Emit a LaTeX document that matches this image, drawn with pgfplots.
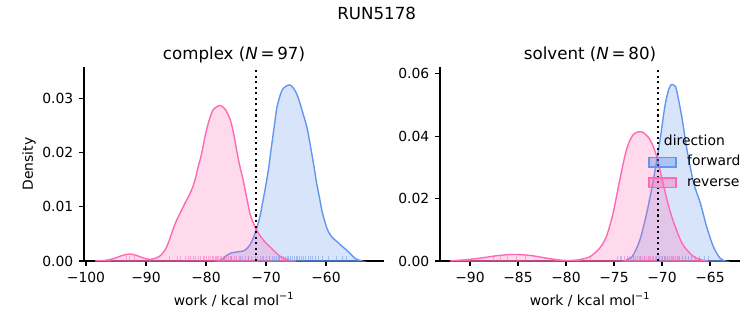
\documentclass[border=0pt]{standalone}
\usepackage{fontspec}
\setmainfont{DejaVu Sans}
\usepackage{pgfplots}
\pgfplotsset{compat=1.18}
\definecolor{fwd}{HTML}{6495ED}
\definecolor{rev}{HTML}{FF69B4}
\pgfplotsset{
  kdestyle/.style={
    scale only axis, width=216pt, height=139.68pt,
    axis x line*=bottom, axis y line*=left,
    axis line style={-, line width=0.8pt, black},
    tick align=outside, major tick length=3.5pt,
    every tick/.style={black, line width=0.8pt},
    minor tick num=0,
    scaled y ticks=false, scaled x ticks=false,
    ymin=0,
    tick label style={font=\fontsize{10}{12}\selectfont},
    xticklabel style={anchor=base, inner sep=0pt, yshift=-12.1pt},
    yticklabel style={anchor=east, inner sep=0pt, xshift=-4pt},
    every axis x label/.style={at={(axis description cs:0.5,0)}, anchor=base, yshift=-31.7pt, font=\fontsize{10}{12}\selectfont},
    every axis y label/.style={at={(axis description cs:-0.1602,0.5)}, rotate=90, anchor=south, inner sep=0pt, font=\fontsize{10}{12}\selectfont},
    every axis title/.style={at={(axis description cs:0.5,1)}, anchor=base, yshift=5.76pt, font=\fontsize{12}{14}\selectfont},
    xlabel={work / kcal mol\textsuperscript{−1}},
  },
  fwdarea/.style={smooth, draw=fwd, line width=1pt, fill=fwd, fill opacity=0.25, draw opacity=1},
  revarea/.style={smooth, draw=rev, line width=1pt, fill=rev, fill opacity=0.25, draw opacity=1},
  fwdrug/.style={ycomb, no marks, draw=fwd, line width=0.6pt, opacity=0.5},
  revrug/.style={ycomb, no marks, draw=rev, line width=0.6pt, opacity=0.5},
}
\begin{document}
\begin{tikzpicture}
\path[use as bounding box] (0pt,0pt) rectangle (542.16pt,234pt);
\node[anchor=base, font=\fontsize{12}{14}\selectfont, inner sep=0pt] at (271.2pt,220.3pt) {RUN5178};

% ---------------- complex ----------------
\begin{axis}[kdestyle, at={(60.48pt,46.08pt)}, anchor=south west,
  xmin=-100.33, xmax=-50.33, ymax=0.0358,
  title={complex ({\itshape N}\,=\,97)},
  ylabel={Density},
  xtick={-100,-90,-80,-70,-60}, xticklabels={−100,−90,−80,−70,−60},
  ytick={0,0.01,0.02,0.03}, yticklabels={0.00,0.01,0.02,0.03},
]
\addplot[fwdarea] coordinates {
(-78,0) (-77.2,0.0004) (-76.6,0.0010) (-76,0.0014) (-75.3,0.0016) (-74.6,0.0017) (-74,0.0018) (-73.5,0.0020) (-73.1,0.0024) (-72.67,0.0030) (-72.2,0.0040) (-71.83,0.0051) (-71.4,0.0066) (-71,0.0082) (-70.6,0.0106) (-70.17,0.0131) (-69.6,0.0168) (-69.1,0.0210) (-68.6,0.0250) (-68.2,0.0282) (-67.6,0.0307) (-67.1,0.0319) (-66.1,0.0325) (-65.5,0.0320) (-64.9,0.0309) (-64.33,0.0291) (-63.8,0.0271) (-63.2,0.0248) (-62.8,0.0225) (-62.38,0.0199) (-61.95,0.0171) (-61.55,0.0143) (-61.1,0.0118) (-60.7,0.0094) (-60.2,0.0073) (-59.6,0.0054) (-58.9,0.0043) (-58.2,0.0036) (-57.4,0.0028) (-56.55,0.0020) (-55.8,0.0012) (-55.17,0.0005) (-54.6,0.0002) (-54,0)
} \closedcycle;
\addplot[revarea] coordinates {
(-98.5,0) (-97,0.0001) (-95.5,0.0004) (-94,0.0010) (-92.7,0.0013) (-91.5,0.0010) (-90.3,0.0005) (-89.3,0.0003) (-88.5,0.0005) (-87.7,0.0009) (-87.1,0.0016) (-86.55,0.0026) (-86,0.0042) (-85.45,0.0060) (-84.9,0.0075) (-84.33,0.0088) (-83.75,0.0101) (-83.2,0.0113) (-82.6,0.0126) (-82.1,0.0140) (-81.7,0.0155) (-81.3,0.0174) (-80.9,0.0190) (-80.6,0.0205) (-80.0,0.0238) (-79.4,0.0262) (-78.8,0.0279) (-77.7,0.0287) (-76.8,0.0280) (-76,0.0262) (-75.4,0.0236) (-74.9,0.0205) (-74.3,0.0172) (-73.8,0.0149) (-73.2,0.0116) (-72.67,0.0088) (-72.1,0.0070) (-71.55,0.0057) (-71,0.0047) (-70.45,0.0039) (-69.9,0.0032) (-69.3,0.0026) (-68.6,0.0018) (-67.8,0.0010) (-67,0.0005) (-66,0.0001) (-65,0)
} \closedcycle;
\addplot[fwdrug] coordinates {
(-77.0,0.0009) (-75.8,0.0009) (-74.3,0.0009) (-72.9,0.0009) (-71.8,0.0009) (-71.0,0.0009) (-70.4,0.0009) (-69.9,0.0009) (-69.4,0.0009) (-69.0,0.0009) (-68.6,0.0009) (-68.3,0.0009) (-68.0,0.0009) (-67.7,0.0009) (-67.4,0.0009) (-67.1,0.0009) (-66.8,0.0009) (-66.5,0.0009) (-66.2,0.0009) (-65.9,0.0009) (-65.6,0.0009) (-65.3,0.0009) (-65.0,0.0009) (-64.7,0.0009) (-64.4,0.0009) (-64.1,0.0009) (-63.8,0.0009) (-63.4,0.0009) (-63.0,0.0009) (-62.6,0.0009) (-62.2,0.0009) (-61.7,0.0009) (-61.2,0.0009) (-60.6,0.0009) (-59.6,0.0009) (-58.3,0.0009) (-57.2,0.0009) (-56.6,0.0009)
};
\addplot[revrug] coordinates {
(-93.3,0.0009) (-92.8,0.0009) (-91.9,0.0009) (-86.1,0.0009) (-84.8,0.0009) (-84.3,0.0009) (-83.5,0.0009) (-83.0,0.0009) (-82.6,0.0009) (-82.1,0.0009) (-81.7,0.0009) (-81.3,0.0009) (-80.9,0.0009) (-80.5,0.0009) (-80.2,0.0009) (-79.9,0.0009) (-79.6,0.0009) (-79.3,0.0009) (-79.0,0.0009) (-78.8,0.0009) (-78.5,0.0009) (-78.3,0.0009) (-78.1,0.0009) (-77.9,0.0009) (-77.6,0.0009) (-77.4,0.0009) (-77.1,0.0009) (-76.9,0.0009) (-76.6,0.0009) (-76.3,0.0009) (-76.0,0.0009) (-75.7,0.0009) (-75.3,0.0009) (-74.9,0.0009) (-74.5,0.0009) (-74.0,0.0009) (-73.5,0.0009) (-73.0,0.0009) (-72.4,0.0009) (-71.5,0.0009) (-70.6,0.0009) (-69.5,0.0009) (-67.8,0.0009)
};
\addplot[black, line width=1.5pt, dash pattern=on 1.5pt off 2.5pt] coordinates {(-71.7,0) (-71.7,0.0358)};
\end{axis}

% ---------------- solvent ----------------
\begin{axis}[kdestyle, at={(316.8pt,46.08pt)}, anchor=south west,
  xmin=-93.125, xmax=-61.875, ymax=0.0622,
  title={solvent ({\itshape N}\,=\,80)},
  xtick={-90,-85,-80,-75,-70,-65}, xticklabels={−90,−85,−80,−75,−70,−65},
  ytick={0,0.02,0.04,0.06}, yticklabels={0.00,0.02,0.04,0.06},
  legend image code/.code={\draw[#1] (0pt,-3.5pt) rectangle (19.5pt,3.5pt);},
  legend cell align=left,
  legend style={draw=none, fill=none, inner sep=0pt, outer sep=0pt,
    at={(0.694,0.540)}, anchor=north west, row sep=6.3pt,
    font=\fontsize{10}{12}\selectfont,
    nodes={inner sep=0pt, text height=7pt, text depth=1.6pt},
    /tikz/every odd column/.append style={column sep=7.6pt}},
]
\addplot[fwdarea, forget plot] coordinates {
(-73.9,0) (-73.4,0.0008) (-73,0.0019) (-72.3,0.0068) (-71.6,0.0153) (-70.9,0.026) (-70.2,0.0389) (-69.7,0.0496) (-69.3,0.0550) (-69,0.0566) (-68.7,0.0562) (-68.5,0.055) (-67.95,0.0464) (-67.4,0.0357) (-66.7,0.025) (-66,0.0185) (-65.35,0.011) (-64.65,0.0046) (-63.95,0.0009) (-63.4,0)
} \closedcycle;
\addplot[revarea, forget plot] coordinates {
(-92.1,0) (-90.5,0.0004) (-89,0.0009) (-87.2,0.0017) (-85.5,0.0021) (-83.75,0.0018) (-82,0.0009) (-80.3,0.0002) (-79.3,0.0002) (-78.5,0.0005) (-77.5,0.0014) (-76.5,0.0041) (-75.8,0.0078) (-75.1,0.0153) (-74.4,0.026) (-73.7,0.0357) (-73,0.0405) (-72.1,0.0414) (-71.25,0.0389) (-70.55,0.0335) (-69.9,0.025) (-69.2,0.0164) (-68.5,0.01) (-67.8,0.0051) (-66.7,0.0014) (-65.7,0.0002) (-65.2,0)
} \closedcycle;
\addplot[fwdrug, forget plot] coordinates {
(-74.3,0.00155) (-73.0,0.00155) (-72.3,0.00155) (-71.8,0.00155) (-71.3,0.00155) (-70.9,0.00155) (-70.6,0.00155) (-70.3,0.00155) (-70.0,0.00155) (-69.8,0.00155) (-69.6,0.00155) (-69.4,0.00155) (-69.2,0.00155) (-69.0,0.00155) (-68.8,0.00155) (-68.6,0.00155) (-68.4,0.00155) (-68.2,0.00155) (-67.9,0.00155) (-67.6,0.00155) (-67.3,0.00155) (-66.9,0.00155) (-66.5,0.00155) (-66.1,0.00155) (-65.6,0.00155) (-65.2,0.00155)
};
\addplot[revrug, forget plot] coordinates {
(-87.6,0.00155) (-86.8,0.00155) (-86.1,0.00155) (-85.2,0.00155) (-84.2,0.00155) (-77.5,0.00155) (-74.6,0.00155) (-74.2,0.00155) (-73.9,0.00155) (-73.6,0.00155) (-73.4,0.00155) (-73.2,0.00155) (-73.0,0.00155) (-72.8,0.00155) (-72.6,0.00155) (-72.4,0.00155) (-72.2,0.00155) (-72.0,0.00155) (-71.8,0.00155) (-71.6,0.00155) (-71.4,0.00155) (-71.2,0.00155) (-71.0,0.00155) (-70.7,0.00155) (-70.4,0.00155) (-70.1,0.00155) (-69.8,0.00155) (-69.4,0.00155) (-68.9,0.00155) (-68.3,0.00155)
};
\addplot[black, line width=1.5pt, dash pattern=on 1.5pt off 2.5pt, forget plot] coordinates {(-70.45,0) (-70.45,0.0622)};
\addlegendimage{draw=fwd, line width=1pt, fill=fwd, fill opacity=0.4}
\addlegendentry{forward}
\addlegendimage{draw=rev, line width=1pt, fill=rev, fill opacity=0.4}
\addlegendentry{reverse}
\node[anchor=base, inner sep=0pt, font=\fontsize{10}{12}\selectfont] at (rel axis cs:0.848,0.593) {direction};
\end{axis}
\end{tikzpicture}
\end{document}
